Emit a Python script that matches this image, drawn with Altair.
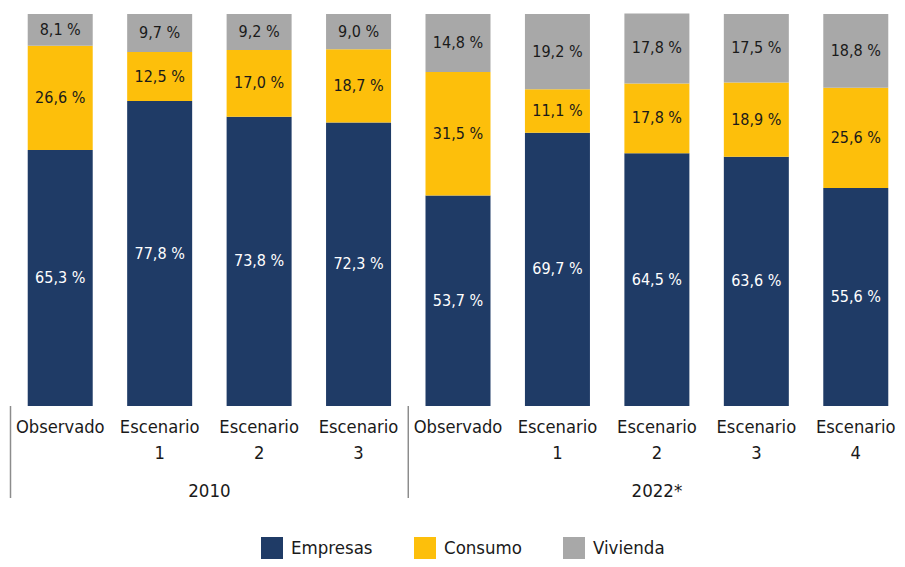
import altair as alt
import pandas as pd

groups = ["2010"] * 4 + ["2022*"] * 5
labels = ["Observado", "Escenario\n1", "Escenario\n2", "Escenario\n3",
          "Observado", "Escenario\n1", "Escenario\n2", "Escenario\n3", "Escenario\n4"]
empresas = [65.3, 77.8, 73.8, 72.3, 53.7, 69.7, 64.5, 63.6, 55.6]
consumo = [26.6, 12.5, 17.0, 18.7, 31.5, 11.1, 17.8, 18.9, 25.6]
vivienda = [8.1, 9.7, 9.2, 9.0, 14.8, 19.2, 17.8, 17.5, 18.8]
series = ["Empresas", "Consumo", "Vivienda"]
colors = ["#1f3b66", "#fdbf0b", "#a8a8a8"]

FONT = "DejaVu Sans Condensed"

ids = [f"{g}|{i}" for i, g in enumerate(groups)]
rows = []
for k in range(len(ids)):
    base = 0.0
    for s, vals in zip(series, [empresas, consumo, vivienda]):
        v = vals[k]
        rows.append(dict(id=ids[k], serie=s, y0=base, y1=base + v, mid=base + v / 2,
                         label=f"{v:.1f} %".replace(".", ",")))
        base += v
df = pd.DataFrame(rows)
ticks = pd.DataFrame({"id": ids, "label": labels})

xscale = alt.Scale(domain=ids, range=[0.5, 895.5], paddingInner=0, paddingOuter=0)
yscale = alt.Scale(domain=[0, 100])

bars = alt.Chart(df).mark_bar(size=65).encode(
    x=alt.X("id:N", scale=xscale, sort=ids,
            axis=alt.Axis(labels=False, ticks=False, domain=True, domainColor="#8c8c8c",
                          domainWidth=1.5, title=None, grid=False)),
    y=alt.Y("y0:Q", scale=yscale, axis=None),
    y2="y1:Q",
    color=alt.Color("serie:N", scale=alt.Scale(domain=series, range=colors),
                    legend=alt.Legend(orient="none", legendX=251, legendY=523,
                                      direction="horizontal", title=None,
                                      symbolType="square", symbolSize=484,
                                      symbolStrokeWidth=0, symbolOpacity=1,
                                      labelFontSize=18.5, labelFont=FONT,
                                      labelColor="#1a1a1a", labelOffset=8,
                                      columnPadding=41, padding=0)),
)

vals = alt.Chart(df).mark_text(fontSize=16, font=FONT).encode(
    x=alt.X("id:N", scale=xscale, sort=ids, axis=None),
    y=alt.Y("mid:Q", scale=yscale, axis=None),
    text="label:N",
    color=alt.condition(alt.datum.serie == "Empresas", alt.value("white"), alt.value("#1a1a1a")),
)

ticklab = alt.Chart(ticks).mark_text(fontSize=18.2, font=FONT, baseline="top", lineBreak="\n",
                                     lineHeight=26, color="#1a1a1a").encode(
    x=alt.X("id:N", scale=xscale, sort=ids, axis=None),
    y=alt.value(405),
    text="label:N",
)

g1 = alt.Chart(pd.DataFrame({"id": [ids[2]], "label": [groups[0]]})).mark_text(
    fontSize=18.5, font=FONT, baseline="top", color="#1a1a1a").encode(
    x=alt.X("id:N", scale=xscale, sort=ids, axis=None, bandPosition=0),
    y=alt.value(468),
    text="label:N",
)
g2 = alt.Chart(pd.DataFrame({"id": [ids[6]], "label": [groups[4]]})).mark_text(
    fontSize=18.5, font=FONT, baseline="top", color="#1a1a1a").encode(
    x=alt.X("id:N", scale=xscale, sort=ids, axis=None, bandPosition=0.5),
    y=alt.value(468),
    text="label:N",
)

seps = alt.Chart(pd.DataFrame({"id": [ids[0], ids[4]]})).mark_rule(
    color="#8c8c8c", strokeWidth=1.5).encode(
    x=alt.X("id:N", scale=xscale, sort=ids, axis=None, bandPosition=0),
    y=alt.value(392),
    y2=alt.value(484),
)

chart = alt.layer(bars, vals, ticklab, g1, g2, seps).properties(
    width=887, height=392,
    autosize=alt.AutoSizeParams(type="none"),
    padding={"left": 2, "top": 6, "right": 0, "bottom": 153},
    background="white",
).configure_view(stroke=None)

chart.save("out.html", embed_options={"renderer": "svg", "actions": False})
